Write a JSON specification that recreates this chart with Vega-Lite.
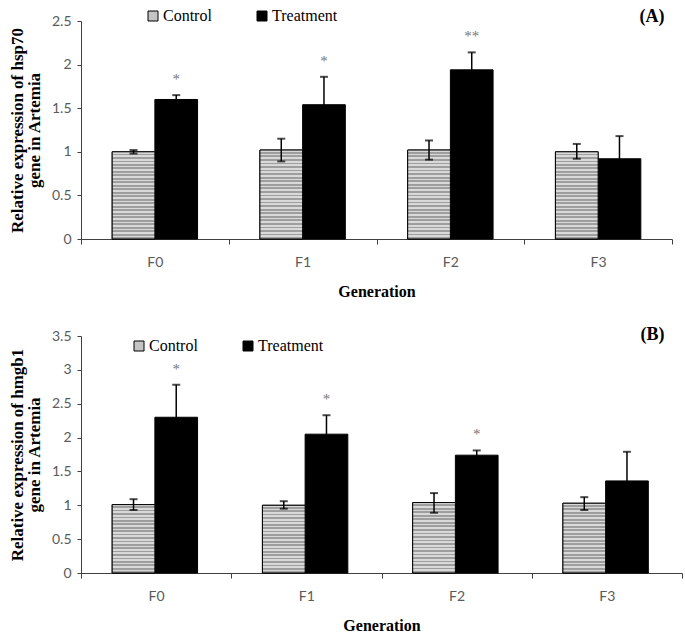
{
"$schema": "https://vega.github.io/schema/vega-lite/v6.json",
"padding": {"left": 8, "top": 8, "right": 0, "bottom": 0},
"datasets": {
"a": [
{"gen": "F0", "series": "Control", "mean": 1.00, "lo": 0.98, "hi": 1.02, "sig": ""},
{"gen": "F0", "series": "Treatment", "mean": 1.60, "lo": 1.55, "hi": 1.65, "sig": "*"},
{"gen": "F1", "series": "Control", "mean": 1.02, "lo": 0.89, "hi": 1.15, "sig": ""},
{"gen": "F1", "series": "Treatment", "mean": 1.54, "lo": 1.22, "hi": 1.86, "sig": "*"},
{"gen": "F2", "series": "Control", "mean": 1.02, "lo": 0.91, "hi": 1.13, "sig": ""},
{"gen": "F2", "series": "Treatment", "mean": 1.94, "lo": 1.74, "hi": 2.14, "sig": "**"},
{"gen": "F3", "series": "Control", "mean": 1.00, "lo": 0.92, "hi": 1.09, "sig": ""},
{"gen": "F3", "series": "Treatment", "mean": 0.92, "lo": 0.66, "hi": 1.18, "sig": ""}
],
"b": [
{"gen": "F0", "series": "Control", "mean": 1.01, "lo": 0.93, "hi": 1.09, "sig": ""},
{"gen": "F0", "series": "Treatment", "mean": 2.30, "lo": 1.82, "hi": 2.78, "sig": "*"},
{"gen": "F1", "series": "Control", "mean": 1.00, "lo": 0.95, "hi": 1.06, "sig": ""},
{"gen": "F1", "series": "Treatment", "mean": 2.05, "lo": 1.77, "hi": 2.33, "sig": "*"},
{"gen": "F2", "series": "Control", "mean": 1.04, "lo": 0.89, "hi": 1.18, "sig": ""},
{"gen": "F2", "series": "Treatment", "mean": 1.74, "lo": 1.68, "hi": 1.81, "sig": "*"},
{"gen": "F3", "series": "Control", "mean": 1.03, "lo": 0.93, "hi": 1.12, "sig": ""},
{"gen": "F3", "series": "Treatment", "mean": 1.36, "lo": 0.93, "hi": 1.79, "sig": ""}
]
},
"config": {
"view": {"stroke": null},
"axis": {"grid": false, "domainColor": "#404040", "tickColor": "#404040", "labelFont": "Lato", "labelFontSize": 14, "labelColor": "#5a5a5a", "titleFont": "Liberation Serif", "titleFontSize": 16, "titleFontWeight": "bold", "titleColor": "black", "labelOverlap": false},
"axisY": {"titleFontSize": 17, "titleLineHeight": 17, "labelOverlap": false},
"title": {"font": "Liberation Serif", "fontSize": 18, "fontWeight": "bold", "color": "black", "anchor": "end"}
},
"resolve": {"scale": {"color": "independent"}, "legend": {"color": "independent"}},
"spacing": 27,
"vconcat": [
{
"width": 591, "height": 218,
"title": {"text": "(A)", "dx": -8, "offset": -18},
"data": {"name": "a"},
"encoding": {
"x": {"field": "gen", "type": "nominal", "scale": {"paddingInner": 0, "paddingOuter": 0}, "axis": {"title": "Generation", "labelAngle": 0, "tickBand": "extent", "tickSize": 5, "labelPadding": 11, "titlePadding": 14}},
"xOffset": {"field": "series", "type": "nominal", "sort": ["Control", "Treatment"], "scale": {"paddingOuter": 0.73, "paddingInner": 0}}
},
"layer": [
{"mark": {"type": "bar", "stroke": "black", "strokeWidth": 1},
"encoding": {
"y": {"field": "mean", "type": "quantitative", "scale": {"domain": [0, 2.5], "nice": false}, "axis": {"values": [0, 0.5, 1, 1.5, 2, 2.5], "tickCount": 12, "format": "~g", "labelOverlap": false, "title": ["Relative expression of hsp70", "gene in Artemia"], "tickSize": 4, "labelPadding": 6, "titlePadding": 8}},
"color": {"field": "series", "type": "nominal", "scale": {"domain": ["Control", "Treatment"], "range": ["#c4c4c4", "black"]},
"legend": {"orient": "none", "legendX": 64, "legendY": -13, "direction": "horizontal", "title": null, "symbolType": "square", "symbolSize": 100, "symbolStrokeColor": "black", "symbolStrokeWidth": 1, "labelFont": "Liberation Serif", "labelFontSize": 16, "labelColor": "black", "columnPadding": 42, "labelOffset": 2}}
}},
{"transform": [{"filter": "datum.series === 'Control'"}],
"mark": {"type": "bar", "stroke": "black", "strokeWidth": 1, "fill": {"gradient": "linear", "x1": 0, "y1": 0, "x2": 0, "y2": 1, "stops": [
{"offset":0,"color":"#d9d9d9"},{"offset":0.02,"color":"#d9d9d9"},{"offset":0.02,"color":"#9e9e9e"},{"offset":0.04,"color":"#9e9e9e"},
{"offset":0.04,"color":"#d9d9d9"},{"offset":0.06,"color":"#d9d9d9"},{"offset":0.06,"color":"#9e9e9e"},{"offset":0.08,"color":"#9e9e9e"},
{"offset":0.08,"color":"#d9d9d9"},{"offset":0.10,"color":"#d9d9d9"},{"offset":0.10,"color":"#9e9e9e"},{"offset":0.12,"color":"#9e9e9e"},
{"offset":0.12,"color":"#d9d9d9"},{"offset":0.14,"color":"#d9d9d9"},{"offset":0.14,"color":"#9e9e9e"},{"offset":0.16,"color":"#9e9e9e"},
{"offset":0.16,"color":"#d9d9d9"},{"offset":0.18,"color":"#d9d9d9"},{"offset":0.18,"color":"#9e9e9e"},{"offset":0.20,"color":"#9e9e9e"},
{"offset":0.20,"color":"#d9d9d9"},{"offset":0.22,"color":"#d9d9d9"},{"offset":0.22,"color":"#9e9e9e"},{"offset":0.24,"color":"#9e9e9e"},
{"offset":0.24,"color":"#d9d9d9"},{"offset":0.26,"color":"#d9d9d9"},{"offset":0.26,"color":"#9e9e9e"},{"offset":0.28,"color":"#9e9e9e"},
{"offset":0.28,"color":"#d9d9d9"},{"offset":0.30,"color":"#d9d9d9"},{"offset":0.30,"color":"#9e9e9e"},{"offset":0.32,"color":"#9e9e9e"},
{"offset":0.32,"color":"#d9d9d9"},{"offset":0.34,"color":"#d9d9d9"},{"offset":0.34,"color":"#9e9e9e"},{"offset":0.36,"color":"#9e9e9e"},
{"offset":0.36,"color":"#d9d9d9"},{"offset":0.38,"color":"#d9d9d9"},{"offset":0.38,"color":"#9e9e9e"},{"offset":0.40,"color":"#9e9e9e"},
{"offset":0.40,"color":"#d9d9d9"},{"offset":0.42,"color":"#d9d9d9"},{"offset":0.42,"color":"#9e9e9e"},{"offset":0.44,"color":"#9e9e9e"},
{"offset":0.44,"color":"#d9d9d9"},{"offset":0.46,"color":"#d9d9d9"},{"offset":0.46,"color":"#9e9e9e"},{"offset":0.48,"color":"#9e9e9e"},
{"offset":0.48,"color":"#d9d9d9"},{"offset":0.50,"color":"#d9d9d9"},{"offset":0.50,"color":"#9e9e9e"},{"offset":0.52,"color":"#9e9e9e"},
{"offset":0.52,"color":"#d9d9d9"},{"offset":0.54,"color":"#d9d9d9"},{"offset":0.54,"color":"#9e9e9e"},{"offset":0.56,"color":"#9e9e9e"},
{"offset":0.56,"color":"#d9d9d9"},{"offset":0.58,"color":"#d9d9d9"},{"offset":0.58,"color":"#9e9e9e"},{"offset":0.60,"color":"#9e9e9e"},
{"offset":0.60,"color":"#d9d9d9"},{"offset":0.62,"color":"#d9d9d9"},{"offset":0.62,"color":"#9e9e9e"},{"offset":0.64,"color":"#9e9e9e"},
{"offset":0.64,"color":"#d9d9d9"},{"offset":0.66,"color":"#d9d9d9"},{"offset":0.66,"color":"#9e9e9e"},{"offset":0.68,"color":"#9e9e9e"},
{"offset":0.68,"color":"#d9d9d9"},{"offset":0.70,"color":"#d9d9d9"},{"offset":0.70,"color":"#9e9e9e"},{"offset":0.72,"color":"#9e9e9e"},
{"offset":0.72,"color":"#d9d9d9"},{"offset":0.74,"color":"#d9d9d9"},{"offset":0.74,"color":"#9e9e9e"},{"offset":0.76,"color":"#9e9e9e"},
{"offset":0.76,"color":"#d9d9d9"},{"offset":0.78,"color":"#d9d9d9"},{"offset":0.78,"color":"#9e9e9e"},{"offset":0.80,"color":"#9e9e9e"},
{"offset":0.80,"color":"#d9d9d9"},{"offset":0.82,"color":"#d9d9d9"},{"offset":0.82,"color":"#9e9e9e"},{"offset":0.84,"color":"#9e9e9e"},
{"offset":0.84,"color":"#d9d9d9"},{"offset":0.86,"color":"#d9d9d9"},{"offset":0.86,"color":"#9e9e9e"},{"offset":0.88,"color":"#9e9e9e"},
{"offset":0.88,"color":"#d9d9d9"},{"offset":0.90,"color":"#d9d9d9"},{"offset":0.90,"color":"#9e9e9e"},{"offset":0.92,"color":"#9e9e9e"},
{"offset":0.92,"color":"#d9d9d9"},{"offset":0.94,"color":"#d9d9d9"},{"offset":0.94,"color":"#9e9e9e"},{"offset":0.96,"color":"#9e9e9e"},
{"offset":0.96,"color":"#d9d9d9"},{"offset":0.98,"color":"#d9d9d9"},{"offset":0.98,"color":"#9e9e9e"},{"offset":1,"color":"#9e9e9e"}
]}},
"encoding": {"y": {"field": "mean", "type": "quantitative"}}},
{"mark": {"type": "rule", "color": "black", "strokeWidth": 1.5},
"encoding": {"y": {"field": "lo", "type": "quantitative"}, "y2": {"field": "hi"}}},
{"mark": {"type": "tick", "color": "black", "thickness": 2, "size": 8},
"encoding": {"y": {"field": "lo", "type": "quantitative"}}},
{"mark": {"type": "tick", "color": "black", "thickness": 2, "size": 8},
"encoding": {"y": {"field": "hi", "type": "quantitative"}}},
{"mark": {"type": "text", "dy": -16, "fontSize": 15, "color": "#777777", "font": "Liberation Serif", "baseline": "middle"},
"encoding": {"y": {"field": "hi", "type": "quantitative"}, "text": {"field": "sig"}}}
]
},
{
"width": 601, "height": 237,
"title": {"text": "(B)", "dx": -18, "offset": -15},
"data": {"name": "b"},
"encoding": {
"x": {"field": "gen", "type": "nominal", "scale": {"paddingInner": 0, "paddingOuter": 0}, "axis": {"title": "Generation", "labelAngle": 0, "tickBand": "extent", "tickSize": 5, "labelPadding": 11, "titlePadding": 14}},
"xOffset": {"field": "series", "type": "nominal", "sort": ["Control", "Treatment"], "scale": {"paddingOuter": 0.71, "paddingInner": 0}}
},
"layer": [
{"mark": {"type": "bar", "stroke": "black", "strokeWidth": 1},
"encoding": {
"y": {"field": "mean", "type": "quantitative", "scale": {"domain": [0, 3.5], "nice": false}, "axis": {"values": [0, 0.5, 1, 1.5, 2, 2.5, 3, 3.5], "tickCount": 12, "format": "~g", "labelOverlap": false, "title": ["Relative expression of hmgb1", "gene in Artemia"], "tickSize": 4, "labelPadding": 6, "titlePadding": 8}},
"color": {"field": "series", "type": "nominal", "scale": {"domain": ["Control", "Treatment"], "range": ["#c4c4c4", "black"]},
"legend": {"orient": "none", "legendX": 50, "legendY": 2, "direction": "horizontal", "title": null, "symbolType": "square", "symbolSize": 100, "symbolStrokeColor": "black", "symbolStrokeWidth": 1, "labelFont": "Liberation Serif", "labelFontSize": 16, "labelColor": "black", "columnPadding": 42, "labelOffset": 2}}
}},
{"transform": [{"filter": "datum.series === 'Control'"}],
"mark": {"type": "bar", "stroke": "black", "strokeWidth": 1, "fill": {"gradient": "linear", "x1": 0, "y1": 0, "x2": 0, "y2": 1, "stops": [
{"offset":0,"color":"#d9d9d9"},{"offset":0.025,"color":"#d9d9d9"},{"offset":0.025,"color":"#9e9e9e"},{"offset":0.05,"color":"#9e9e9e"},
{"offset":0.05,"color":"#d9d9d9"},{"offset":0.075,"color":"#d9d9d9"},{"offset":0.075,"color":"#9e9e9e"},{"offset":0.10,"color":"#9e9e9e"},
{"offset":0.10,"color":"#d9d9d9"},{"offset":0.125,"color":"#d9d9d9"},{"offset":0.125,"color":"#9e9e9e"},{"offset":0.15,"color":"#9e9e9e"},
{"offset":0.15,"color":"#d9d9d9"},{"offset":0.175,"color":"#d9d9d9"},{"offset":0.175,"color":"#9e9e9e"},{"offset":0.20,"color":"#9e9e9e"},
{"offset":0.20,"color":"#d9d9d9"},{"offset":0.225,"color":"#d9d9d9"},{"offset":0.225,"color":"#9e9e9e"},{"offset":0.25,"color":"#9e9e9e"},
{"offset":0.25,"color":"#d9d9d9"},{"offset":0.275,"color":"#d9d9d9"},{"offset":0.275,"color":"#9e9e9e"},{"offset":0.30,"color":"#9e9e9e"},
{"offset":0.30,"color":"#d9d9d9"},{"offset":0.325,"color":"#d9d9d9"},{"offset":0.325,"color":"#9e9e9e"},{"offset":0.35,"color":"#9e9e9e"},
{"offset":0.35,"color":"#d9d9d9"},{"offset":0.375,"color":"#d9d9d9"},{"offset":0.375,"color":"#9e9e9e"},{"offset":0.40,"color":"#9e9e9e"},
{"offset":0.40,"color":"#d9d9d9"},{"offset":0.425,"color":"#d9d9d9"},{"offset":0.425,"color":"#9e9e9e"},{"offset":0.45,"color":"#9e9e9e"},
{"offset":0.45,"color":"#d9d9d9"},{"offset":0.475,"color":"#d9d9d9"},{"offset":0.475,"color":"#9e9e9e"},{"offset":0.50,"color":"#9e9e9e"},
{"offset":0.50,"color":"#d9d9d9"},{"offset":0.525,"color":"#d9d9d9"},{"offset":0.525,"color":"#9e9e9e"},{"offset":0.55,"color":"#9e9e9e"},
{"offset":0.55,"color":"#d9d9d9"},{"offset":0.575,"color":"#d9d9d9"},{"offset":0.575,"color":"#9e9e9e"},{"offset":0.60,"color":"#9e9e9e"},
{"offset":0.60,"color":"#d9d9d9"},{"offset":0.625,"color":"#d9d9d9"},{"offset":0.625,"color":"#9e9e9e"},{"offset":0.65,"color":"#9e9e9e"},
{"offset":0.65,"color":"#d9d9d9"},{"offset":0.675,"color":"#d9d9d9"},{"offset":0.675,"color":"#9e9e9e"},{"offset":0.70,"color":"#9e9e9e"},
{"offset":0.70,"color":"#d9d9d9"},{"offset":0.725,"color":"#d9d9d9"},{"offset":0.725,"color":"#9e9e9e"},{"offset":0.75,"color":"#9e9e9e"},
{"offset":0.75,"color":"#d9d9d9"},{"offset":0.775,"color":"#d9d9d9"},{"offset":0.775,"color":"#9e9e9e"},{"offset":0.80,"color":"#9e9e9e"},
{"offset":0.80,"color":"#d9d9d9"},{"offset":0.825,"color":"#d9d9d9"},{"offset":0.825,"color":"#9e9e9e"},{"offset":0.85,"color":"#9e9e9e"},
{"offset":0.85,"color":"#d9d9d9"},{"offset":0.875,"color":"#d9d9d9"},{"offset":0.875,"color":"#9e9e9e"},{"offset":0.90,"color":"#9e9e9e"},
{"offset":0.90,"color":"#d9d9d9"},{"offset":0.925,"color":"#d9d9d9"},{"offset":0.925,"color":"#9e9e9e"},{"offset":0.95,"color":"#9e9e9e"},
{"offset":0.95,"color":"#d9d9d9"},{"offset":0.975,"color":"#d9d9d9"},{"offset":0.975,"color":"#9e9e9e"},{"offset":1,"color":"#9e9e9e"}
]}},
"encoding": {"y": {"field": "mean", "type": "quantitative"}}},
{"mark": {"type": "rule", "color": "black", "strokeWidth": 1.5},
"encoding": {"y": {"field": "lo", "type": "quantitative"}, "y2": {"field": "hi"}}},
{"mark": {"type": "tick", "color": "black", "thickness": 2, "size": 8},
"encoding": {"y": {"field": "lo", "type": "quantitative"}}},
{"mark": {"type": "tick", "color": "black", "thickness": 2, "size": 8},
"encoding": {"y": {"field": "hi", "type": "quantitative"}}},
{"mark": {"type": "text", "dy": -16, "fontSize": 15, "color": "#777777", "font": "Liberation Serif", "baseline": "middle"},
"encoding": {"y": {"field": "hi", "type": "quantitative"}, "text": {"field": "sig"}}}
]
}
]
}
